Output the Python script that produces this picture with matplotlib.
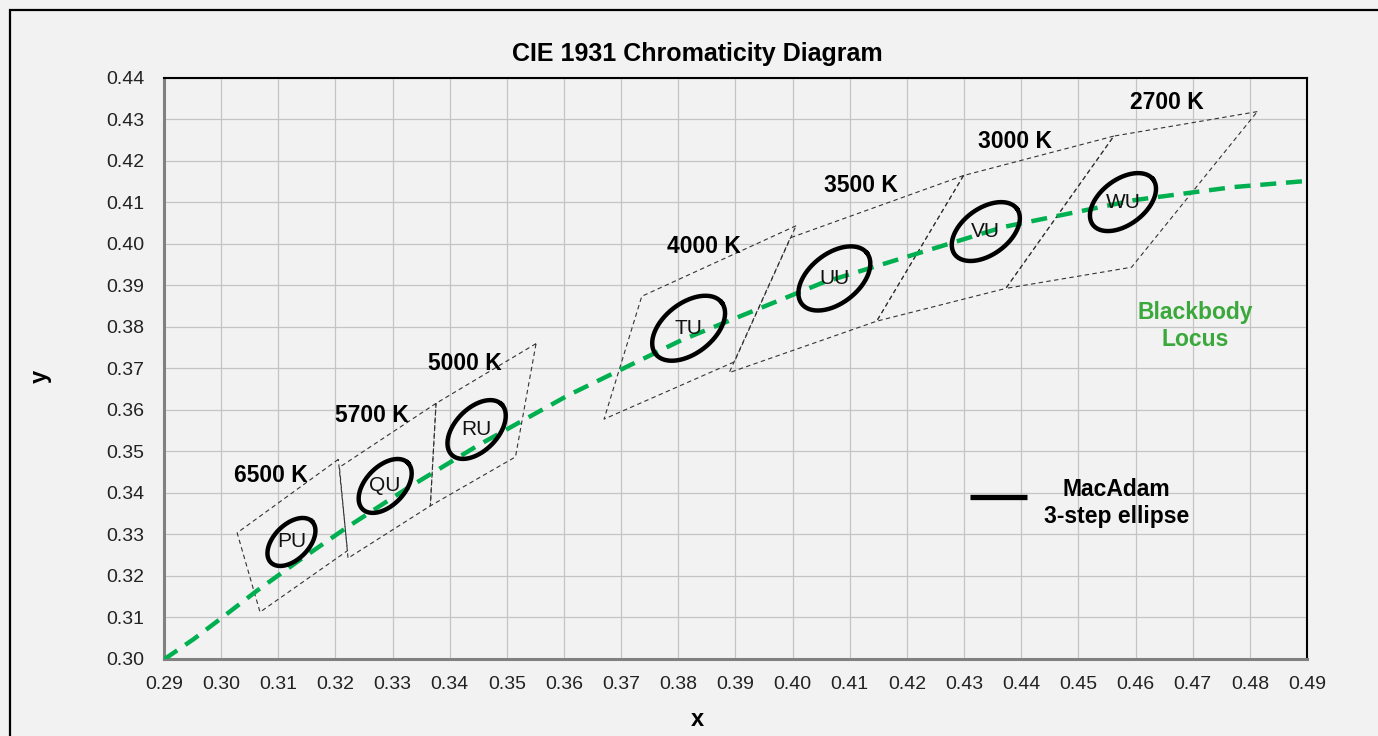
import numpy as np
import matplotlib
matplotlib.use('Agg')
import matplotlib.pyplot as plt
from matplotlib.patches import Rectangle

plt.rcParams['font.family'] = ['Liberation Sans', 'DejaVu Sans']

# ANSI quadrangles (corners: top-right, top-left, bottom-left, bottom-right)
cct_labels = ['6500 K', '5700 K', '5000 K', '4000 K', '3500 K', '3000 K', '2700 K']
quad_x = [[0.3205, 0.3028, 0.3068, 0.3221],
          [0.3376, 0.3207, 0.3222, 0.3366],
          [0.3551, 0.3376, 0.3366, 0.3515],
          [0.4006, 0.3736, 0.3670, 0.3898],
          [0.4299, 0.3996, 0.3889, 0.4147],
          [0.4562, 0.4299, 0.4147, 0.4373],
          [0.4813, 0.4562, 0.4373, 0.4593]]
quad_y = [[0.3481, 0.3304, 0.3113, 0.3261],
          [0.3616, 0.3462, 0.3243, 0.3369],
          [0.3760, 0.3616, 0.3369, 0.3487],
          [0.4044, 0.3874, 0.3578, 0.3716],
          [0.4165, 0.4015, 0.3690, 0.3814],
          [0.4260, 0.4165, 0.3814, 0.3893],
          [0.4319, 0.4260, 0.3893, 0.3944]]
label_x = [0.3087, 0.3264, 0.3427, 0.3845, 0.4120, 0.4389, 0.4655]
label_y = [0.3441, 0.3586, 0.3713, 0.3995, 0.4140, 0.4246, 0.4340]

# MacAdam 3-step ellipses (semi-axes in x units, tilt as drawn on the chart)
ell_names = ['PU', 'QU', 'RU', 'TU', 'UU', 'VU', 'WU']
ell_cx = [0.3123, 0.3287, 0.3447, 0.3818, 0.4073, 0.4338, 0.4578]
ell_cy = [0.3282, 0.3417, 0.3553, 0.3797, 0.3917, 0.4030, 0.4101]
ell_a = [0.00509, 0.00567, 0.00621, 0.00733, 0.00723, 0.00675, 0.00660]
ell_b = [0.00306, 0.00341, 0.00373, 0.00439, 0.00434, 0.00406, 0.00395]
ell_tilt = [45, 46, 45.5, 38, 38, 36, 37]

# blackbody locus
locus_x = [0.2900, 0.2952, 0.3000, 0.3064, 0.3135, 0.3221, 0.3324, 0.3451, 0.3608,
           0.3805, 0.4053, 0.4369, 0.4599, 0.4770, 0.4900]
locus_y = [0.2999, 0.3048, 0.3098, 0.3166, 0.3236, 0.3318, 0.3410, 0.3516, 0.3636,
           0.3768, 0.3907, 0.4041, 0.4106, 0.4137, 0.4152]

bg = '#f2f2f2'
fig = plt.figure(figsize=(13.78, 7.36), dpi=100, facecolor=bg)
ax = fig.add_axes([164/1378, 1-659/736, (1307-164)/1378, (659-78)/736])
ax.set_facecolor(bg)

# outer frame
fig.patches.append(Rectangle((10/1378, -0.1), 1.2, 1-10/736+0.1, transform=fig.transFigure,
                             fill=False, edgecolor='black', lw=1.6))

ax.set_xlim(0.29, 0.49)
ax.set_ylim(0.30, 0.44)
ax.set_xticks(np.arange(0.29, 0.4901, 0.01))
ax.set_yticks(np.arange(0.30, 0.4401, 0.01))
ax.xaxis.set_major_formatter(matplotlib.ticker.FormatStrFormatter('%.2f'))
ax.yaxis.set_major_formatter(matplotlib.ticker.FormatStrFormatter('%.2f'))
ax.tick_params(length=0, labelsize=14, colors='#222222')
ax.tick_params(axis='y', pad=14)
ax.tick_params(axis='x', pad=12)
ax.grid(True, color='#c4c4c4', lw=0.9)
ax.set_axisbelow(True)
for s in ['left', 'bottom']:
    ax.spines[s].set_color('#808080')
    ax.spines[s].set_linewidth(2.2)
for s in ['top', 'right']:
    ax.spines[s].set_color('black')
    ax.spines[s].set_linewidth(1.5)

for i in range(len(cct_labels)):
    qx = quad_x[i] + [quad_x[i][0]]
    qy = quad_y[i] + [quad_y[i][0]]
    ax.plot(qx, qy, color='#333333', lw=0.8, ls=(0, (4, 3)), zorder=2)
    ax.text(label_x[i], label_y[i], cct_labels[i], fontsize=16.5, fontweight='bold',
            ha='center', va='center', zorder=5)

ax.plot(locus_x, locus_y, color='#00b050', lw=3.2, ls=(0, (3.6, 2.2)), zorder=3)

# ratio of y units to x units per screen pixel
bb = ax.get_position()
fw, fh = fig.get_size_inches()
r = (0.14 / (bb.height * fh)) / (0.20 / (bb.width * fw))
t = np.linspace(0, 2*np.pi, 200)
for i in range(len(ell_names)):
    phi = np.radians(ell_tilt[i])
    dx = ell_a[i]*np.cos(t)*np.cos(phi) - ell_b[i]*np.sin(t)*np.sin(phi)
    dy = ell_a[i]*np.cos(t)*np.sin(phi) + ell_b[i]*np.sin(t)*np.cos(phi)
    ax.plot(ell_cx[i] + dx, ell_cy[i] + dy*r, color='black', lw=3.2, zorder=4)
    ax.text(ell_cx[i], ell_cy[i], ell_names[i], fontsize=15, ha='center', va='center',
            color='#111111', zorder=5)

# legend-like annotations
ax.plot([0.4310, 0.4410], [0.3390, 0.3390], color='black', lw=3.8, solid_capstyle='butt')
ax.text(0.4567, 0.3376, 'MacAdam\n3-step ellipse', fontsize=16.5, fontweight='bold',
        ha='center', va='center', linespacing=1.25)
ax.text(0.4704, 0.3802, 'Blackbody\nLocus', fontsize=16.5, fontweight='bold', color='#3aa83a',
        ha='center', va='center', linespacing=1.25)

fig.text(697/1378, 1-54/736, 'CIE 1931 Chromaticity Diagram', fontsize=18, fontweight='bold',
         ha='center', va='center')
fig.text(697/1378, 1-720/736, 'x', fontsize=17, fontweight='bold', ha='center', va='center')
fig.text(40/1378, 1-376/736, 'y', fontsize=17, fontweight='bold', ha='center', va='center',
         rotation=90)

fig.savefig('out.png', dpi=100, facecolor=bg)
